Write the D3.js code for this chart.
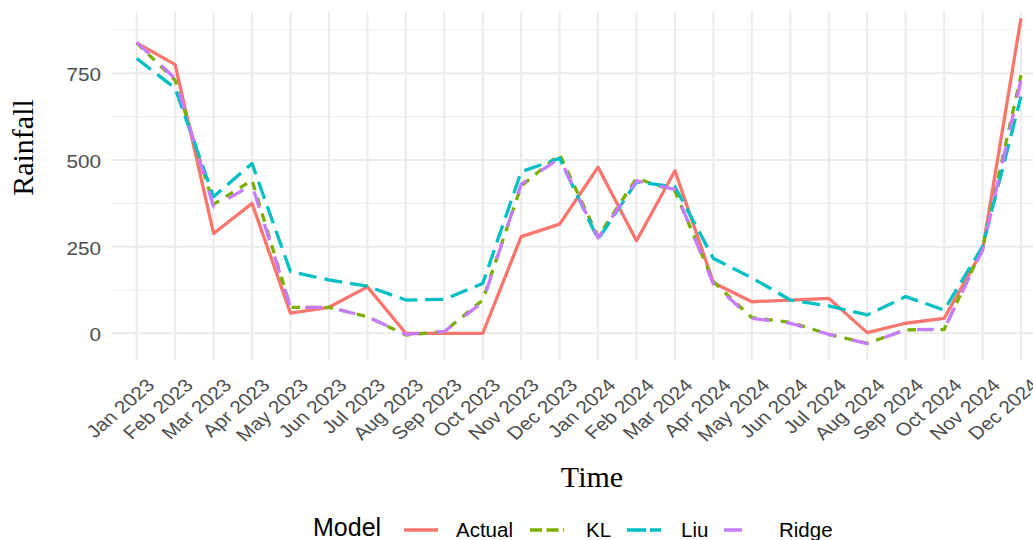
<!DOCTYPE html>
<html>
<head>
<meta charset="utf-8">
<script src="https://cdn.jsdelivr.net/npm/d3@7"></script>
<style>
  html, body { margin: 0; padding: 0; background: #fff; }
  svg { display: block; }
</style>
</head>
<body>
<svg id="chart" width="1033" height="540"></svg>
<script>
// ---- data ----
const months = ["Jan 2023","Feb 2023","Mar 2023","Apr 2023","May 2023","Jun 2023","Jul 2023","Aug 2023","Sep 2023","Oct 2023","Nov 2023","Dec 2023",
                "Jan 2024","Feb 2024","Mar 2024","Apr 2024","May 2024","Jun 2024","Jul 2024","Aug 2024","Sep 2024","Oct 2024","Nov 2024","Dec 2024"];
const actual = [838, 775, 288, 375, 58, 75, 134, 0, 0, 0, 279, 315, 479, 267, 469, 146, 91, 96, 101, 2, 29, 43, 240, 909];
const kl     = [838, 730, 372, 442, 75, 75, 48, -5, 5, 96, 425, 516, 279, 447, 410, 149, 45, 32, -3, -29, 10, 11, 246, 745];
const liu    = [793, 707, 394, 490, 178, 154, 136, 96, 98, 144, 466, 505, 271, 437, 423, 216, 160, 96, 79, 53, 106, 67, 250, 683];
const ridge  = [840, 735, 365, 428, 75, 75, 48, -3, 5, 90, 430, 505, 275, 440, 415, 142, 43, 29, -3, -30, 10, 12, 240, 731];
const seriesNames = ["Actual", "KL", "Liu", "Ridge"];
const yTicks = [0, 250, 500, 750];
const yMinorTicks = [125, 375, 625, 875];

// ---- styles ----
const colors = {Actual: "#F8766D", KL: "#7CAE00", Liu: "#00BFC4", Ridge: "#C77CFF"};
const dashes = {Actual: null, KL: "8.5 8", Liu: "18 8", Ridge: "17 17"};
const keyDashes = {Actual: null, KL: "12 4.5", Liu: "19 4", Ridge: "18 20"};

const svg = d3.select("#chart");
const panel = {left: 112, right: 1033, top: 12, bottom: 360};

const x = d3.scalePoint().domain(months).range([136.7, 1021]);
const y = d3.scaleLinear().domain([-77, 927]).range([panel.bottom, panel.top]);

// gridlines
const grid = svg.append("g");
grid.selectAll("line.minor").data(yMinorTicks).join("line")
  .attr("x1", panel.left).attr("x2", panel.right)
  .attr("y1", d => y(d)).attr("y2", d => y(d))
  .attr("stroke", "#EFEFEF").attr("stroke-width", 1.2);
grid.selectAll("line.major").data(yTicks).join("line")
  .attr("x1", panel.left).attr("x2", panel.right)
  .attr("y1", d => y(d)).attr("y2", d => y(d))
  .attr("stroke", "#EBEBEB").attr("stroke-width", 2);
grid.selectAll("line.vx").data(months).join("line")
  .attr("x1", d => x(d)).attr("x2", d => x(d))
  .attr("y1", panel.top).attr("y2", panel.bottom)
  .attr("stroke", "#EBEBEB").attr("stroke-width", 2);

// y axis
const yAxis = d3.axisLeft(y).tickValues(yTicks).tickSize(0).tickPadding(0).tickFormat(d3.format("d"));
const yg = svg.append("g").attr("transform", "translate(101,0)").call(yAxis);
yg.select(".domain").remove();
yg.selectAll(".tick").attr("transform", null);
yg.selectAll(".tick text")
  .attr("font-family", "Liberation Sans, Arial, sans-serif")
  .attr("font-size", 18.5).attr("fill", "#4D4D4D")
  .attr("x", 0).attr("y", 0).attr("dy", "0.35em")
  .attr("transform", d => `translate(0,${y(d) + 1.5}) scale(1.12,1)`);

// x axis
const xAxis = d3.axisBottom(x).tickSize(0).tickPadding(0);
const xg = svg.append("g").call(xAxis);
xg.select(".domain").remove();
xg.selectAll(".tick").attr("transform", null);
xg.selectAll(".tick text")
  .attr("font-family", "Liberation Sans, Arial, sans-serif")
  .attr("font-size", 18).attr("fill", "#4D4D4D")
  .attr("text-anchor", "end").attr("dy", 0).attr("y", 0).attr("x", 0)
  .attr("transform", d => `translate(${x(d) + 19},${386.5}) scale(1.16,1) rotate(-45)`);

// lines
const line = d3.line().x((d, i) => x(months[i])).y(d => y(d));
const dataBy = {Actual: actual, KL: kl, Liu: liu, Ridge: ridge};
seriesNames.forEach(name => {
  svg.append("path")
    .datum(dataBy[name])
    .attr("d", line)
    .attr("fill", "none")
    .attr("stroke", colors[name])
    .attr("stroke-width", 3.3)
    .attr("stroke-linejoin", "round")
    .attr("stroke-dasharray", dashes[name]);
});

// axis titles
svg.append("text").text("Time")
  .attr("x", 592).attr("y", 486.5)
  .attr("text-anchor", "middle")
  .attr("font-family", "Liberation Serif, 'Times New Roman', serif")
  .attr("font-size", 30).attr("fill", "#000");
svg.append("text").text("Rainfall")
  .attr("transform", "translate(33,147.5) rotate(-90)")
  .attr("text-anchor", "middle")
  .attr("font-family", "Liberation Serif, 'Times New Roman', serif")
  .attr("font-size", 30).attr("fill", "#000");

// legend
const lg = svg.append("g");
lg.append("text").text("Model")
  .attr("x", 313).attr("y", 536)
  .attr("font-family", "Liberation Sans, Arial, sans-serif")
  .attr("font-size", 25).attr("fill", "#000");
const keyX = {Actual: 404, KL: 530, Liu: 627, Ridge: 724};
const labX = {Actual: 456, KL: 586, Liu: 681, Ridge: 779};
seriesNames.forEach(name => {
  lg.append("line")
    .attr("x1", keyX[name]).attr("x2", keyX[name] + 34)
    .attr("y1", 530).attr("y2", 530)
    .attr("stroke", colors[name]).attr("stroke-width", 3.5)
    .attr("stroke-dasharray", keyDashes[name]);
  lg.append("text").text(name)
    .attr("x", labX[name]).attr("y", 536.5)
    .attr("font-family", "Liberation Sans, Arial, sans-serif")
    .attr("font-size", 20.5).attr("fill", "#000");
});
</script>
</body>
</html>
